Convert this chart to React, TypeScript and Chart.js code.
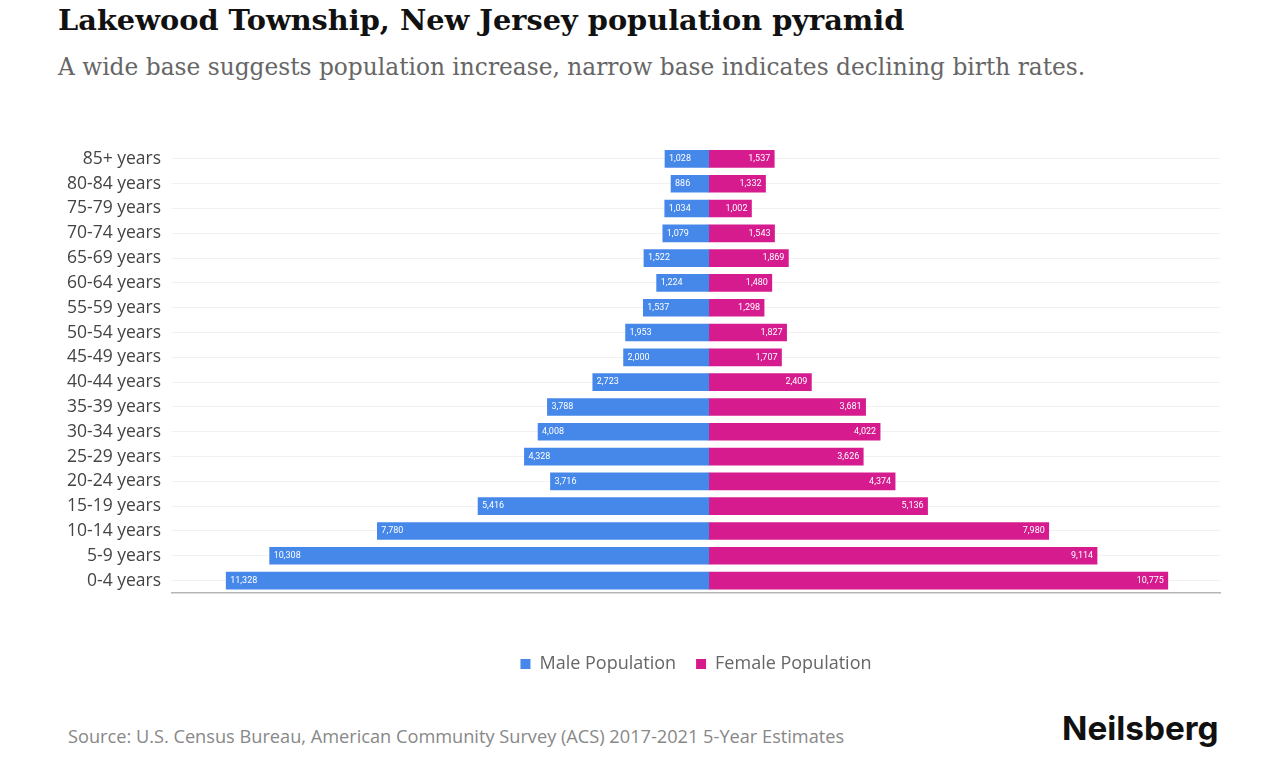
import React, { useEffect, useRef } from "react";
import { Chart, registerables } from "chart.js";

Chart.register(...registerables);

const ageGroups = [
  "85+ years", "80-84 years", "75-79 years", "70-74 years", "65-69 years",
  "60-64 years", "55-59 years", "50-54 years", "45-49 years", "40-44 years",
  "35-39 years", "30-34 years", "25-29 years", "20-24 years", "15-19 years",
  "10-14 years", "5-9 years", "0-4 years",
];
const malePopulation = [
  1028, 886, 1034, 1079, 1522, 1224, 1537, 1953, 2000, 2723,
  3788, 4008, 4328, 3716, 5416, 7780, 10308, 11328,
];
const femalePopulation = [
  1537, 1332, 1002, 1543, 1869, 1480, 1298, 1827, 1707, 2409,
  3681, 4022, 3626, 4374, 5136, 7980, 9114, 10775,
];

const MALE_COLOR = "#4687ea";
const FEMALE_COLOR = "#d61b8e";

const barLabels = {
  id: "barLabels",
  afterDatasetsDraw(chart: any) {
    const ctx = chart.ctx;
    ctx.save();
    ctx.font = "9px Roboto";
    ctx.fillStyle = "#ffffff";
    ctx.textBaseline = "middle";
    chart.data.datasets.forEach((ds: any, di: number) => {
      const meta = chart.getDatasetMeta(di);
      meta.data.forEach((bar: any, i: number) => {
        const v = Math.abs(ds.data[i]);
        const txt = v.toLocaleString("en-US");
        if (di === 0) {
          ctx.textAlign = "left";
          ctx.fillText(txt, Math.min(bar.x, bar.base) + 4, bar.y);
        } else {
          ctx.textAlign = "right";
          ctx.fillText(txt, Math.max(bar.x, bar.base) - 4, bar.y);
        }
      });
    });
    ctx.restore();
  },
};

export default function App() {
  const ref = useRef<HTMLCanvasElement>(null);
  useEffect(() => {
    if (!ref.current) return;
    const chart = new Chart(ref.current, {
      type: "bar",
      data: {
        labels: ageGroups,
        datasets: [
          {
            label: "Male Population",
            data: malePopulation.map((v) => -v),
            backgroundColor: MALE_COLOR,
            barThickness: 17,
          },
          {
            label: "Female Population",
            data: femalePopulation,
            backgroundColor: FEMALE_COLOR,
            barThickness: 17,
          },
        ],
      },
      options: {
        indexAxis: "y",
        animation: false,
        responsive: false,
        maintainAspectRatio: false,
        layout: { padding: { top: 13, right: 58, bottom: 15, left: 0 } },
        scales: {
          x: {
            stacked: true,
            min: -12600,
            max: 12000,
            ticks: { display: false },
            grid: { display: false, drawTicks: false },
            border: { display: true, color: "#b5b5b5", width: 1.5 },
            afterFit(scale: any) {
              scale.height = 42;
            },
          },
          y: {
            stacked: true,
            ticks: {
              color: "#444444",
              font: { family: "'Open Sans'", size: 17.5 },
              padding: 11,
            },
            grid: { display: true, offset: false, color: "#f1f1f1", drawTicks: false },
            border: { display: false },
            afterFit(scale: any) {
              scale.width = 172;
            },
          },
        },
        plugins: {
          legend: {
            position: "bottom",
            fullSize: false,
            labels: {
              boxWidth: 10,
              boxHeight: 10,
              padding: 20,
              color: "#666666",
              font: { family: "'Open Sans'", size: 18 },
            },
          },
          tooltip: { enabled: false },
        },
      },
      plugins: [barLabels],
    });
    return () => chart.destroy();
  }, []);

  return (
    <div style={{ position: "absolute", left: 0, top: 0, width: 1278, height: 760, background: "#fff", overflow: "hidden" }}>
      <div style={{ position: "absolute", left: 58, top: 0, fontFamily: "'DejaVu Serif'", fontWeight: 700, fontSize: 28.8, color: "#111", lineHeight: "40px", whiteSpace: "nowrap" }}>
        Lakewood Township, New Jersey population pyramid
      </div>
      <div style={{ position: "absolute", left: 58, top: 51, fontFamily: "'DejaVu Serif'", fontSize: 23.3, color: "#666", lineHeight: "32px", whiteSpace: "nowrap" }}>
        A wide base suggests population increase, narrow base indicates declining birth rates.
      </div>
      <canvas ref={ref} width={1278} height={573} style={{ position: "absolute", left: 0, top: 125 }} />
      <div style={{ position: "absolute", left: 68, top: 724, fontFamily: "'Open Sans'", fontSize: 18.2, color: "#888", lineHeight: "24px", whiteSpace: "nowrap" }}>
        Source: U.S. Census Bureau, American Community Survey (ACS) 2017-2021 5-Year Estimates
      </div>
      <div style={{ position: "absolute", left: 1062, top: 708, fontFamily: "Inter", fontWeight: 700, fontSize: 33.3, color: "#111", lineHeight: "40px", whiteSpace: "nowrap" }}>
        Neilsberg
      </div>
    </div>
  );
}
